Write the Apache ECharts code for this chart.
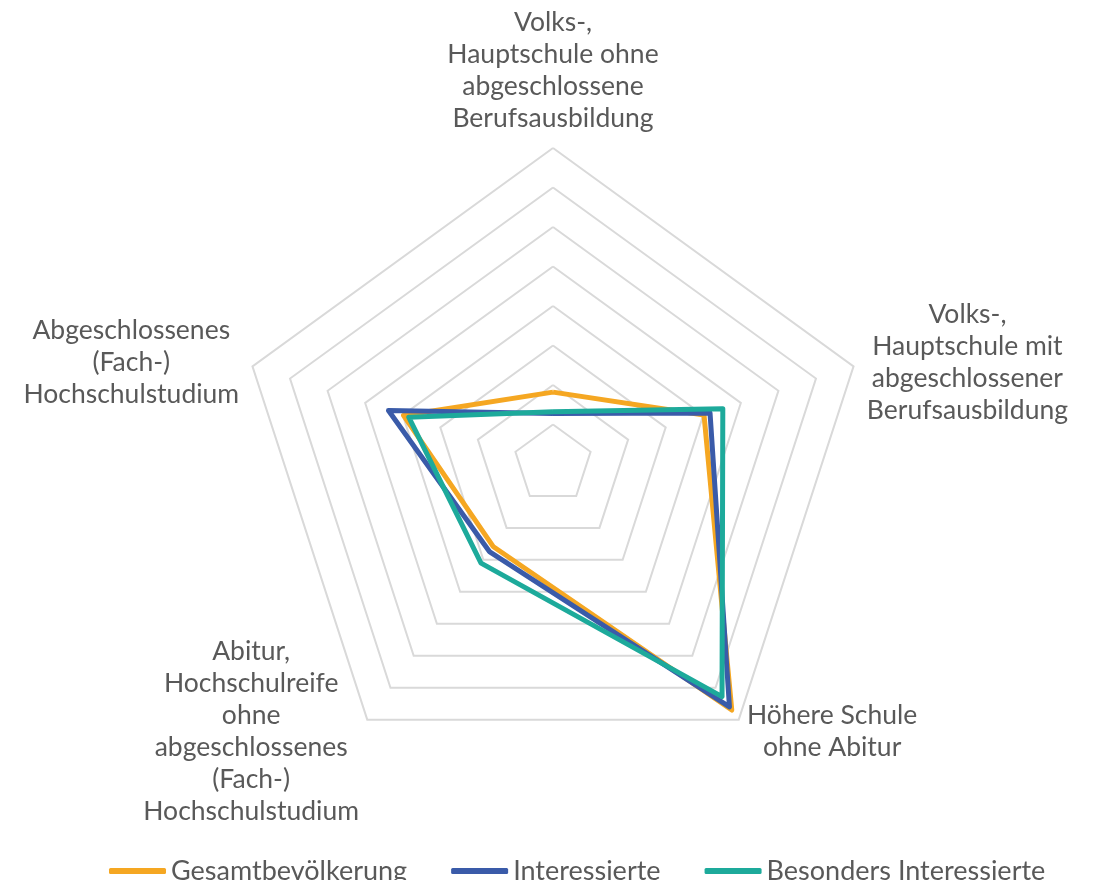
<!DOCTYPE html>
<html>
<head>
<meta charset="utf-8">
<script src="https://cdn.jsdelivr.net/npm/echarts@6/dist/echarts.min.js"></script>
<style>
html,body{margin:0;padding:0;background:#fff;}
#chart{width:1097px;height:880px;}
</style>
</head>
<body>
<div id="chart"></div>
<script>
// Indicators in ECharts order (top, then counter-clockwise)
const categories = [
  'Volks-,\nHauptschule ohne\nabgeschlossene\nBerufsausbildung',
  'Abgeschlossenes\n(Fach-)\nHochschulstudium',
  'Abitur,\nHochschulreife\nohne\nabgeschlossenes\n(Fach-)\nHochschulstudium',
  'Höhere Schule\nohne Abitur',
  'Volks-,\nHauptschule mit\nabgeschlossener\nBerufsausbildung'
];
const seriesNames = ['Gesamtbevölkerung', 'Interessierte', 'Besonders Interessierte'];
const gesamt = [9.1, 19.9, 12.9, 38.5, 20.1];
const interessierte = [6.4, 21.9, 13.7, 38.0, 20.9];
const besonders = [6.6, 19.2, 15.5, 36.4, 22.6];
const axisMax = 40;
const colors = ['#F5A722', '#3A5BA9', '#1DAA9B'];

const chart = echarts.init(document.getElementById('chart'), null, {renderer: 'canvas'});
const font = 'Lato, "Open Sans", sans-serif';
const values = [gesamt, interessierte, besonders];

chart.setOption({
  animation: false,
  color: colors,
  legend: {
    data: seriesNames,
    top: 851,
    left: 104,
    icon: 'roundRect',
    itemWidth: 57,
    itemHeight: 6,
    itemGap: 44,
    textStyle: {color: '#595959', fontSize: 27, lineHeight: 30, fontFamily: font}
  },
  radar: {
    center: [553, 464],
    radius: 316,
    shape: 'polygon',
    splitNumber: 8,
    startAngle: 90,
    indicator: categories.map(n => ({name: n, min: 0, max: axisMax})),
    axisName: {
      color: '#595959',
      fontSize: 26.5,
      fontFamily: font,
      formatter: function (name) {
        return name.split('\n').map(l => '{c|' + l + '}').join('\n');
      },
      rich: {
        c: {align: 'center', fontSize: 26.5, lineHeight: 32, color: '#595959', fontFamily: font}
      }
    },
    nameGap: 14,
    axisLine: {show: false},
    axisTick: {show: false},
    axisLabel: {show: false},
    splitArea: {show: false},
    splitLine: {lineStyle: {color: '#D9D9D9', width: 2}}
  },
  series: [{
    type: 'radar',
    symbol: 'none',
    data: seriesNames.map((n, i) => ({
      name: n,
      value: values[i],
      lineStyle: {color: colors[i], width: 5},
      itemStyle: {color: colors[i]}
    }))
  }]
});
</script>
</body>
</html>
